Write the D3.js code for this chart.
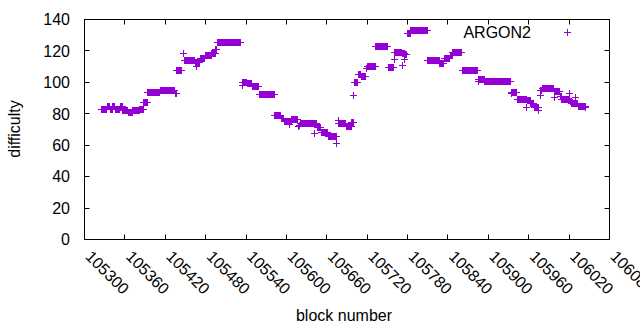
<!DOCTYPE html>
<html lang="en">
<head>
    <meta charset="UTF-8">
    <title>ARGON2 difficulty</title>
    <script src="https://d3js.org/d3.v7.min.js"></script>
    <style>
        body { margin: 0; background: #fff; }
        text { font-family: "Liberation Sans", Arial, sans-serif; font-size: 16px; fill: #000; }
    </style>
</head>
<body>
    <div id="chart"></div>
    <script>

// difficulty runs: each run is a stretch of consecutive blocks at one difficulty
const runFirstBlock = [105325,105334,105338,105342,105346,105353,105357,105365,105372,105382,105388,105394,105413,105435,105437,105447,105448,105465,105467,105468,105472,105480,105489,105495,105497,105534,105535,105542,105549,105560,105583,105592,105597,105605,105606,105608,105618,105619,105621,105642,105643,105646,105652,105662,105675,105677,105678,105689,105697,105700,105701,105707,105711,105719,105720,105733,105751,105760,105761,105772,105773,105776,105777,105780,105785,105810,105828,105835,105844,105847,105861,105885,105886,105895,105934,105935,105943,105957,105958,105963,105968,105975,105977,105978,105980,105998,105999,106007,106009,106021,106022,106024,106030,106031,106034,106045];
const runLastBlock  = [105333,105337,105341,105345,105352,105356,105364,105371,105381,105387,105393,105412,105434,105436,105444,105447,105464,105466,105467,105471,105479,105488,105494,105496,105532,105534,105541,105548,105559,105582,105591,105596,105604,105605,105607,105616,105618,105620,105641,105642,105645,105651,105661,105674,105675,105677,105688,105696,105699,105700,105706,105710,105718,105719,105732,105750,105759,105760,105771,105772,105775,105776,105779,105784,105809,105827,105834,105843,105846,105860,105884,105885,105894,105933,105934,105942,105956,105957,105962,105967,105974,105975,105977,105979,105997,105998,106006,106008,106020,106021,106023,106029,106030,106033,106044,106045];
const runDifficulty = [82.5,84.5,83,84.8,82.5,84.6,82,81,82.2,83,87,93.5,94.6,93,107.3,118.6,113.7,112.4,110.3,112.4,115,117,118.5,121,125.2,98,100,99,97.4,92.3,78.9,77,75.3,73.2,75,76.5,71.9,72.8,73.6,67.7,73.6,71,68.3,65.5,60.9,75.7,74,72,74.5,91.4,100,105,103.7,108.6,110,122.6,109.7,114.3,118.8,110.7,118.3,114.3,118,131,132.8,113.7,112.2,115,117,118.8,107.5,100.5,101.6,100.5,92.7,93.3,89.3,83.8,88.5,86.4,83.8,82.1,91.6,95,96.1,90.2,94.4,91,88.9,93.1,88,86.8,90.6,86.8,84.6,83.8];

const xTicks = d3.range(105300, 106081, 60);
const yTicks = d3.range(0, 141, 20);
const seriesName = "ARGON2";

const width = 640, height = 330;
const plotLeft = 84.5, plotRight = 609.5, plotTop = 19.5, plotBottom = 239.5;
const color = "#9400d3";

// one point per block
const points = [];
runFirstBlock.forEach((first, i) => {
    for (let b = first; b <= runLastBlock[i]; b++) points.push({ block: b, difficulty: runDifficulty[i] });
});

const x = d3.scaleLinear().domain([105300, 106080]).range([plotLeft, plotRight]);
const y = d3.scaleLinear().domain([0, 140]).range([plotBottom, plotTop]);

const svg = d3.select("#chart").append("svg")
    .attr("width", width)
    .attr("height", height);

const plus = "M-3,0.5h7M0.5,-3v7";

// data
svg.append("g")
    .selectAll("path")
    .data(points)
    .enter().append("path")
    .attr("transform", d => `translate(${Math.round(x(d.block) - 0.5)},${Math.round(y(d.difficulty) - 0.5)})`)
    .attr("d", plus)
    .attr("fill", "none")
    .attr("stroke", color)
    .attr("stroke-width", 1);

// ticks, inward on all four sides
const tickLen = 5;
const axes = svg.append("g").attr("stroke", "#000").attr("stroke-width", 1);
xTicks.forEach(t => {
    const px = Math.round(x(t) - 0.5) + 0.5;
    axes.append("line").attr("x1", px).attr("x2", px).attr("y1", plotBottom).attr("y2", plotBottom - tickLen);
    axes.append("line").attr("x1", px).attr("x2", px).attr("y1", plotTop).attr("y2", plotTop + tickLen);
});
yTicks.forEach(t => {
    const py = Math.round(y(t) - 0.5) + 0.5;
    axes.append("line").attr("x1", plotLeft).attr("x2", plotLeft + tickLen).attr("y1", py).attr("y2", py);
    axes.append("line").attr("x1", plotRight).attr("x2", plotRight - tickLen).attr("y1", py).attr("y2", py);
});
axes.append("rect")
    .attr("x", plotLeft).attr("y", plotTop)
    .attr("width", plotRight - plotLeft).attr("height", plotBottom - plotTop)
    .attr("fill", "none");

// tick labels
svg.append("g")
    .selectAll("text")
    .data(yTicks)
    .enter().append("text")
    .attr("x", 70)
    .attr("y", d => y(d))
    .attr("dy", "0.36em")
    .attr("text-anchor", "end")
    .text(d => d);

svg.append("g")
    .selectAll("text")
    .data(xTicks)
    .enter().append("text")
    .attr("transform", d => `translate(${x(d)},${plotBottom + 18}) rotate(45)`)
    .attr("text-anchor", "start")
    .text(d => d);

// axis titles
svg.append("text")
    .attr("x", 344)
    .attr("y", 321)
    .attr("text-anchor", "middle")
    .text("block number");

svg.append("text")
    .attr("transform", "translate(20,129) rotate(-90)")
    .attr("text-anchor", "middle")
    .text("difficulty");

// legend
svg.append("text")
    .attr("x", 531)
    .attr("y", 37.5)
    .attr("text-anchor", "end")
    .text(seriesName);
svg.append("path")
    .attr("transform", "translate(567,32)")
    .attr("d", plus)
    .attr("fill", "none")
    .attr("stroke", color);

    </script>
</body>
</html>
